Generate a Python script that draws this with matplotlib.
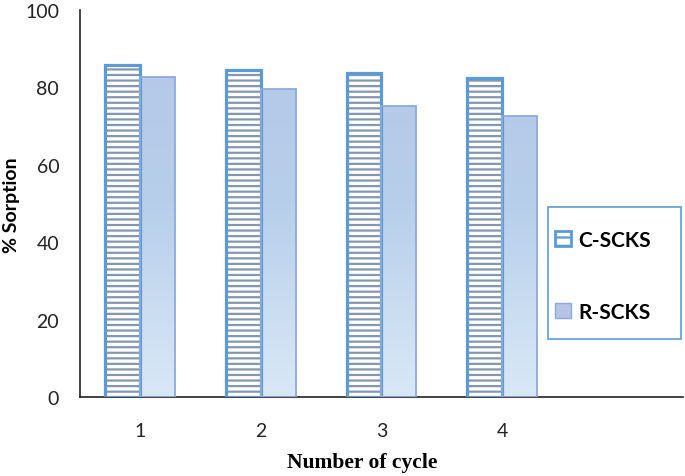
import matplotlib.pyplot as plt
import numpy as np
from matplotlib.patches import Patch, Rectangle

cycles = ["1", "2", "3", "4"]
c_scks = [85.8, 84.5, 83.7, 82.4]
r_scks = [82.6, 79.6, 75.3, 72.5]
series_labels = ["C-SCKS", "R-SCKS"]
yticks = [0, 20, 40, 60, 80, 100]

BLUE = "#5b9bd5"
HATCH = "#8497b0"
R_EDGE = "#8eaadb"

plt.rcParams["hatch.linewidth"] = 1.6

W, H = 685, 477
fig = plt.figure(figsize=(W / 100, H / 100), dpi=100)
ax = fig.add_axes([80 / W, 1 - 398 / H, 603 / W, 387 / H])

x = np.arange(len(cycles))
w = 0.29

# C-SCKS: hatch drawn first, thick blue outline on top
ax.bar(x - w / 2, c_scks, w, color="white", edgecolor=HATCH, hatch="---", lw=0, zorder=2)
ax.bar(x - w / 2, c_scks, w, fill=False, edgecolor=BLUE, lw=2.3, zorder=3)

# R-SCKS: vertical gradient fill clipped to each bar
grad = np.linspace(0, 1, 256).reshape(-1, 1)
cmap = plt.matplotlib.colors.LinearSegmentedColormap.from_list(
    "rg", ["#d9e8f6", "#b7cfeb", "#b4c5e6"])
bars = ax.bar(x + w / 2, r_scks, w, color="none", edgecolor=R_EDGE, lw=1.3, zorder=3)
for b in bars:
    x0 = b.get_x()
    im = ax.imshow(grad, cmap=cmap, aspect="auto", origin="lower",
                   extent=[x0, x0 + b.get_width(), 0, 100], zorder=2)
    im.set_clip_path(b)

ax.set_xlim(-0.5, 4.5)
ax.set_ylim(0, 100)
ax.set_xticks(x)
ax.set_xticklabels(cycles)
ax.set_yticks(yticks)
ax.tick_params(length=0, labelsize=14)
ax.yaxis.set_tick_params(pad=15)
ax.xaxis.set_tick_params(pad=18)
for t in ax.get_xticklabels() + ax.get_yticklabels():
    t.set_fontfamily("Lato")
    t.set_color("#222222")

for s in ["top", "right"]:
    ax.spines[s].set_visible(False)
for s in ["left", "bottom"]:
    ax.spines[s].set_color("#222222")
    ax.spines[s].set_linewidth(1.2)

fig.text(12 / W, 1 - 205 / H, "% Sorption", rotation=90, ha="center", va="center",
         fontfamily="Lato", fontweight="bold", fontsize=14)
fig.text(362 / W, 1 - 463 / H, "Number of cycle", ha="center", va="center",
         fontfamily="Liberation Serif", fontweight="bold", fontsize=15.5)

# legend box drawn separately so its padding matches
fig.patches.append(Rectangle((548 / W, 1 - 340 / H), 133 / W, 132 / H,
                             transform=fig.transFigure, fill=False,
                             edgecolor=BLUE, lw=1.2))
handles = [
    Patch(facecolor="white", edgecolor=BLUE, lw=2, hatch="--"),
    Patch(facecolor="#b4c5e6", edgecolor=R_EDGE, lw=1),
]
fig.legend(handles, series_labels, loc="upper left",
           bbox_to_anchor=(555 / W, 1 - 231 / H),
           prop={"family": "Lato", "weight": "bold", "size": 15},
           frameon=False, labelspacing=2.5,
           handlelength=0.75, handleheight=0.75, handletextpad=0.35,
           borderpad=0, borderaxespad=0)

fig.savefig("out.png", dpi=100)
